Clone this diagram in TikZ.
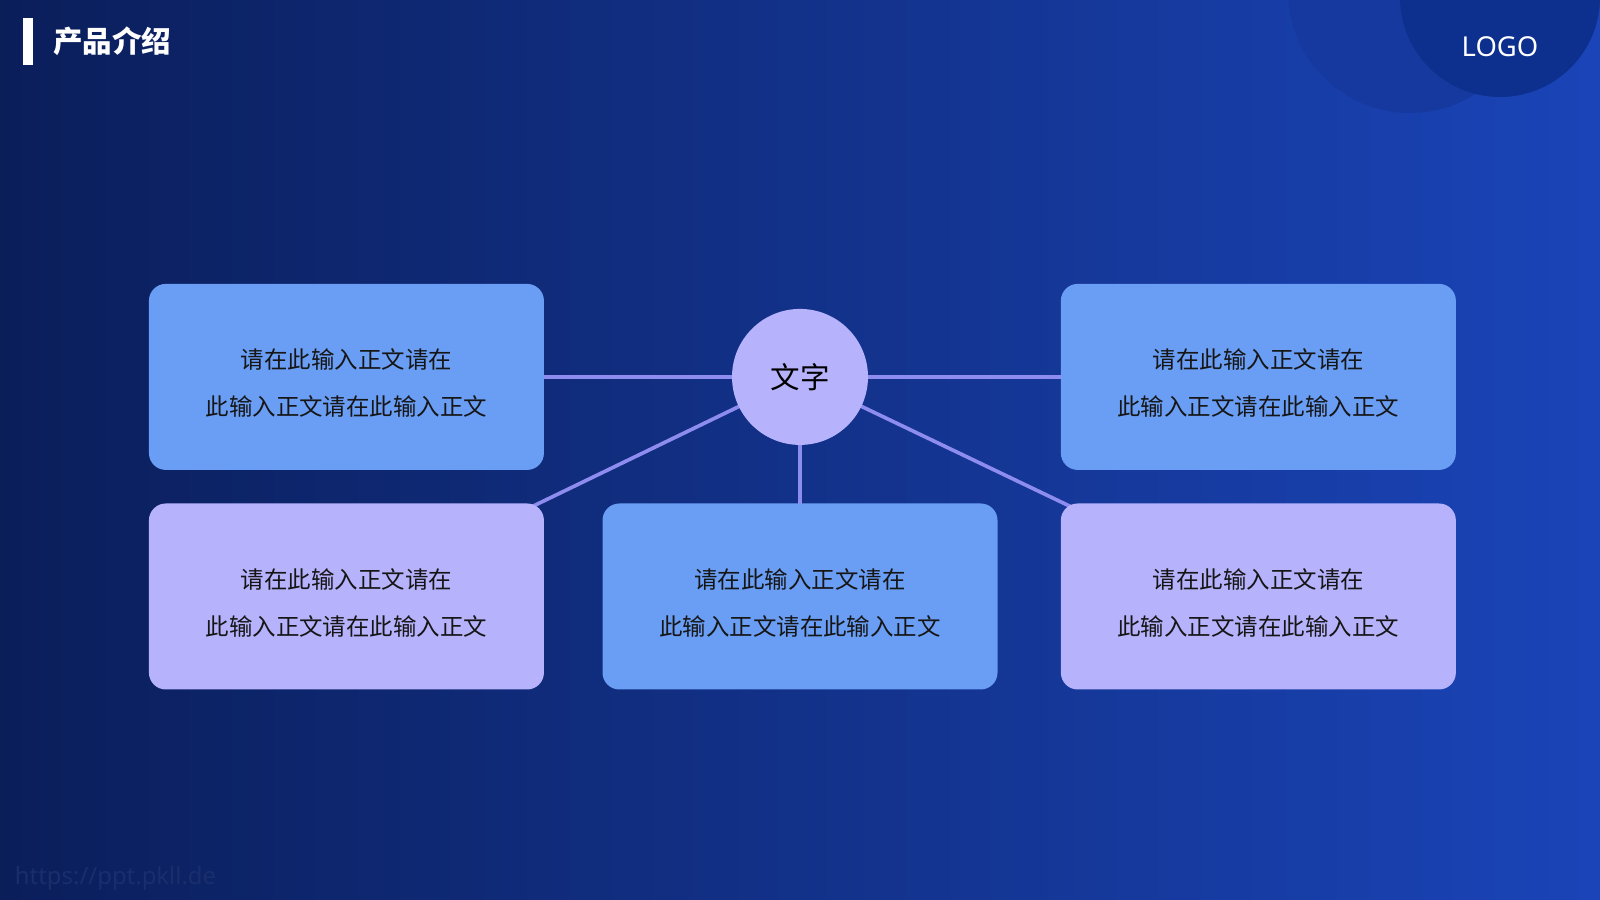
\documentclass[tikz,border=0pt]{standalone}
\usepackage{fontspec}
\setmainfont{Noto Sans}
\newfontfamily\cjk{Noto Sans CJK SC}
\definecolor{SlideNavy}{HTML}{0A1E5A}
\definecolor{SlideBlue}{HTML}{1A44B8}
\definecolor{RingBlue}{HTML}{16399F}
\definecolor{DiscBlue}{HTML}{0D2F8D}
\definecolor{CardBlue}{HTML}{6A9EF4}
\definecolor{CardLilac}{HTML}{B6B2FB}
\definecolor{LinkLilac}{HTML}{8E8CEE}
\definecolor{InkDark}{HTML}{161616}
\definecolor{MarkFaint}{HTML}{1A2E6C}
\newcommand\toppad{\rule{0pt}{23pt}}
\usetikzlibrary{positioning,backgrounds}
\tikzset{
  card/.style={rounded corners=0.42cm, inner sep=0pt, minimum width=9.875cm, minimum height=4.65cm, align=center, text=InkDark, font=\cjk\fontsize{16.7}{33.5}\selectfont},
  bluecard/.style={card, fill=CardBlue},
  lilaccard/.style={card, fill=CardLilac},
  hub/.style={circle, fill=CardLilac, minimum size=3.4cm, inner sep=0pt, text=black, font=\cjk\fontsize{21}{24}\selectfont},
  link/.style={LinkLilac, line width=2.6pt},
  heading/.style={anchor=west, inner sep=0pt, text=white, font=\cjk\bfseries\fontsize{21}{24}\selectfont}
}

\begin{document}
\begin{tikzpicture}
    % slide background
    \begin{pgfonlayer}{background}
      \shade[left color=SlideNavy, right color=SlideBlue] (0,0) rectangle (40,22.5);
      \begin{scope}
        \clip (0,0) rectangle (40,22.5);
        \fill[RingBlue] (35.25,22.725) circle (3.05);
        \fill[DiscBlue] (37.5,22.575) circle (2.5);
      \end{scope}
    \end{pgfonlayer}
    \useasboundingbox (0,0) rectangle (40,22.5);

    % title and logo
    \fill[white] (0.575,20.875) rectangle (0.825,22.05);
    \node[heading] (title) at (1.325,21.46) {产品介绍};
    \node[text=white, font=\fontsize{19.5}{22}\selectfont] (logo) at (37.5,21.32) {LOGO};

    % cards
    \node[bluecard] (mid) at (20,7.5875) {\toppad 请在此输入正文请在\\此输入正文请在此输入正文};
    \node[hub, above=1.45cm of mid] (hub) {文字};
    \node[lilaccard, left=1.45cm of mid] (botleft) {\toppad 请在此输入正文请在\\此输入正文请在此输入正文};
    \node[lilaccard, right=1.57cm of mid] (botright) {\toppad 请在此输入正文请在\\此输入正文请在此输入正文};
    \node[bluecard, above=0.825cm of botleft] (topleft) {\toppad 请在此输入正文请在\\此输入正文请在此输入正文};
    \node[bluecard, above=0.825cm of botright] (topright) {\toppad 请在此输入正文请在\\此输入正文请在此输入正文};

    \begin{pgfonlayer}{background}
      \draw[link] (hub.center) -- (topleft.center);
      \draw[link] (hub.center) -- (topright.center);
      \draw[link] (hub.center) -- (botleft.center);
      \draw[link] (hub.center) -- (botright.center);
      \draw[link] (hub.center) -- (mid.center);
    \end{pgfonlayer}

    \node[anchor=west, text=MarkFaint, font=\bfseries\fontsize{17}{20}\selectfont] (mark) at (0.25,0.55) {https://ppt.pkll.de};
  \end{tikzpicture}
\end{document}
